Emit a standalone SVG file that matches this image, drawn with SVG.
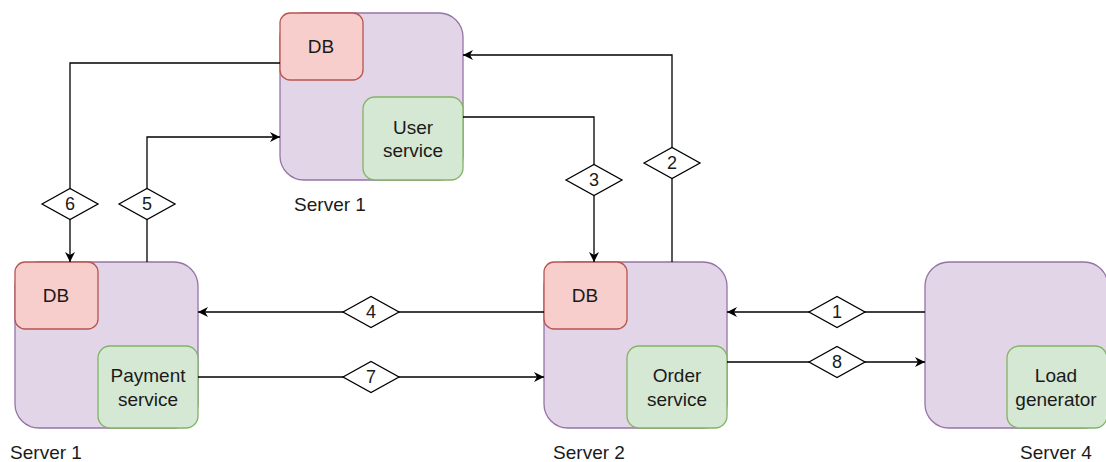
<svg xmlns="http://www.w3.org/2000/svg" width="1106" height="462" viewBox="0 0 1106 462">
<style>
text{font-family:"Liberation Sans",Arial,Helvetica,sans-serif;font-size:19px;fill:#1a1a1a;text-anchor:middle;dominant-baseline:central}
.srv{fill:#e1d5e7;stroke:#9673a6;stroke-width:1.3}
.db{fill:#f8cecc;stroke:#b85450;stroke-width:1.3}
.svc{fill:#d5e8d4;stroke:#82b366;stroke-width:1.3}
.ln{fill:none;stroke:#000;stroke-width:1.3}
.dm{fill:#fff;stroke:#000;stroke-width:1.3}
.dt{font-size:18px}
</style>
<defs>
<marker id="arr" viewBox="0 0 10 10" refX="10" refY="5" markerWidth="10" markerHeight="10" markerUnits="userSpaceOnUse" orient="auto">
<path d="M0,0 L10,5 L0,10 L3,5 Z" fill="#000"/>
</marker>
</defs>
<g id="server1-top">
<rect class="srv" x="280" y="13" width="183" height="167" rx="24"/>
<rect class="db" x="280" y="13" width="83" height="67" rx="10"/>
<text x="321" y="46">DB</text>
<rect class="svc" x="363" y="97" width="100" height="83" rx="12"/>
<text x="413" y="127">User</text>
<text x="413" y="150">service</text>
<text x="330" y="204">Server 1</text>
</g>
<g id="server1-left">
<rect class="srv" x="15" y="262" width="183" height="166" rx="24"/>
<rect class="db" x="15" y="262" width="83" height="67" rx="10"/>
<text x="56" y="295">DB</text>
<rect class="svc" x="98" y="346" width="100" height="82" rx="12"/>
<text x="148" y="375">Payment</text>
<text x="148" y="399">service</text>
<text x="46" y="452">Server 1</text>
</g>
<g id="server2">
<rect class="srv" x="544" y="262" width="183" height="166" rx="24"/>
<rect class="db" x="544" y="262" width="83" height="67" rx="10"/>
<text x="585" y="295">DB</text>
<rect class="svc" x="627" y="346" width="100" height="82" rx="12"/>
<text x="677" y="375">Order</text>
<text x="677" y="399">service</text>
<text x="589" y="452">Server 2</text>
</g>
<g id="server4">
<rect class="srv" x="925" y="262" width="183" height="166" rx="24"/>
<rect class="svc" x="1007" y="346" width="100" height="82" rx="12"/>
<text x="1056" y="375">Load</text>
<text x="1056" y="399">generator</text>
<text x="1056" y="452">Server 4</text>
</g>
<g id="connectors">
<path class="ln" d="M925,312 H727" marker-end="url(#arr)"/>
<path class="ln" d="M672,262 V55 H463" marker-end="url(#arr)"/>
<path class="ln" d="M463,117 H594 V262" marker-end="url(#arr)"/>
<path class="ln" d="M544,312 H198" marker-end="url(#arr)"/>
<path class="ln" d="M147,262 V137 H280" marker-end="url(#arr)"/>
<path class="ln" d="M280,63 H70 V262" marker-end="url(#arr)"/>
<path class="ln" d="M198,377 H544" marker-end="url(#arr)"/>
<path class="ln" d="M727,362 H925" marker-end="url(#arr)"/>
<g id="label1"><path class="dm" d="M809,312 L837,296.5 L865,312 L837,327.5 Z"/><text class="dt" x="837" y="312">1</text></g>
<g id="label2"><path class="dm" d="M644,163 L672,147.5 L700,163 L672,178.5 Z"/><text class="dt" x="672" y="163">2</text></g>
<g id="label3"><path class="dm" d="M566,180 L594,164.5 L622,180 L594,195.5 Z"/><text class="dt" x="594" y="180">3</text></g>
<g id="label4"><path class="dm" d="M343,312 L371,296.5 L399,312 L371,327.5 Z"/><text class="dt" x="371" y="312">4</text></g>
<g id="label5"><path class="dm" d="M119,204 L147,188.5 L175,204 L147,219.5 Z"/><text class="dt" x="147" y="204">5</text></g>
<g id="label6"><path class="dm" d="M42,204 L70,188.5 L98,204 L70,219.5 Z"/><text class="dt" x="70" y="204">6</text></g>
<g id="label7"><path class="dm" d="M343,377 L371,361.5 L399,377 L371,392.5 Z"/><text class="dt" x="371" y="377">7</text></g>
<g id="label8"><path class="dm" d="M809,362 L837,346.5 L865,362 L837,377.5 Z"/><text class="dt" x="837" y="362">8</text></g>
</g>
</svg>
